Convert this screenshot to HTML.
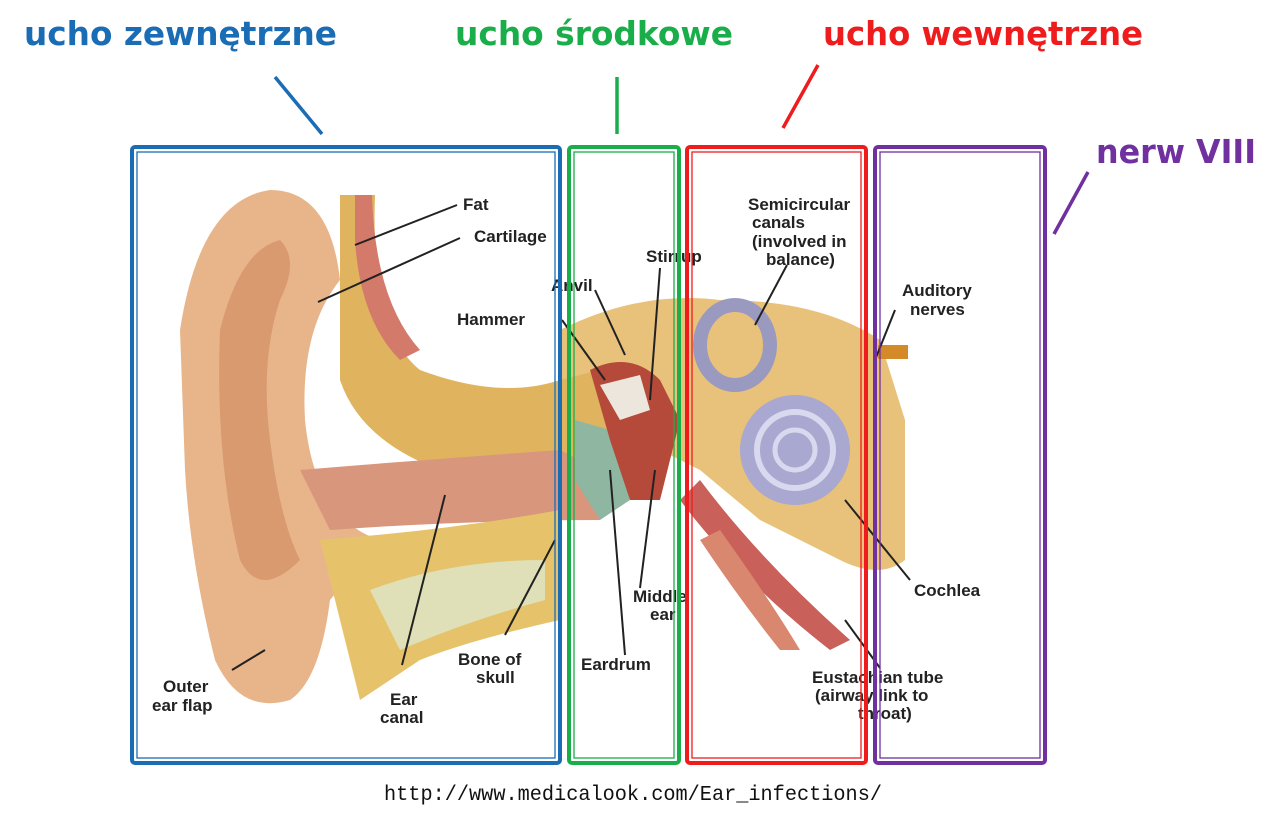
<!DOCTYPE html>
<html><head><meta charset="utf-8"><style>
body{margin:0;width:1280px;height:823px;background:#fff;overflow:hidden;font-family:"Liberation Sans",sans-serif}
svg{position:absolute;left:0;top:0}
.h{font-family:"DejaVu Sans","Liberation Sans",sans-serif;font-size:33px;font-weight:bold}
.l{font-family:"Liberation Sans",sans-serif;font-weight:bold;font-size:17px;fill:#222}
</style></head><body>
<svg width="1280" height="823" viewBox="0 0 1280 823">
<path d="M560 330 Q640 290 720 300 Q820 300 880 340 L905 420 L905 560 Q880 580 840 560 L760 520 L700 470 L640 440 L560 450 Z" fill="#e8c27a"/>
<path d="M340 195 L375 195 Q370 330 420 370 Q500 400 560 380 L600 370 L620 440 L560 470 L440 470 Q360 440 340 380 Z" fill="#e0b45e"/>
<path d="M355 195 L372 195 Q375 300 420 350 L400 360 Q360 320 355 240Z" fill="#d47a6a"/>
<path d="M180 330 Q200 200 270 190 Q330 190 340 280 Q300 330 305 420 Q315 520 380 540 L330 600 Q320 680 290 700 Q240 715 215 660 Q190 560 185 470 Z" fill="#e8b58a"/>
<path d="M220 330 Q240 250 280 240 Q300 260 280 300 Q260 360 270 440 Q280 520 300 560 Q260 600 240 560 Q215 460 220 330Z" fill="#d99a70"/>
<path d="M300 470 Q420 460 560 450 L600 470 L600 520 Q470 520 330 530 Z" fill="#d8967c"/>
<path d="M320 540 Q450 530 560 510 L560 620 Q470 640 420 660 L360 700 Z" fill="#e6c36b"/>
<path d="M370 590 Q450 560 545 560 L545 600 Q470 620 400 650 Z" fill="#dfe0b8"/>
<path d="M575 420 L610 430 L630 500 L600 520 L575 480Z" fill="#8fb6a0"/>
<path d="M590 370 Q630 350 660 380 L680 420 L660 500 L630 500 L610 440Z" fill="#b54a3a"/>
<path d="M600 385 L640 375 L650 410 L620 420Z" fill="#ece6dc"/>
<ellipse cx="735" cy="345" rx="35" ry="40" fill="none" stroke="#9a9ac0" stroke-width="14"/>
<circle cx="795" cy="450" r="55" fill="#a8a8d0"/>
<circle cx="795" cy="450" r="38" fill="none" stroke="#d8d8ee" stroke-width="6"/>
<circle cx="795" cy="450" r="20" fill="none" stroke="#d8d8ee" stroke-width="5"/>
<path d="M700 480 Q760 560 850 640 L830 650 Q740 580 680 500Z" fill="#c9605a"/>
<path d="M720 530 Q770 600 800 650 L780 650 Q740 600 700 540Z" fill="#d9876e"/>
<rect x="878" y="345" width="30" height="14" fill="#d58a2a"/>
<g stroke="#222" stroke-width="2" fill="none">
<line x1="457" y1="205" x2="355" y2="245"/><line x1="460" y1="238" x2="318" y2="302"/>
<line x1="562" y1="320" x2="605" y2="380"/><line x1="595" y1="290" x2="625" y2="355"/>
<line x1="660" y1="268" x2="650" y2="400"/><line x1="787" y1="265" x2="755" y2="325"/>
<line x1="895" y1="310" x2="875" y2="360"/><line x1="910" y1="580" x2="845" y2="500"/>
<line x1="880" y1="668" x2="845" y2="620"/><line x1="640" y1="588" x2="655" y2="470"/>
<line x1="625" y1="655" x2="610" y2="470"/><line x1="505" y1="635" x2="555" y2="540"/>
<line x1="402" y1="665" x2="445" y2="495"/><line x1="232" y1="670" x2="265" y2="650"/>
</g>
<g class="l">
<text x="463" y="210" class="l">Fat</text><text x="474" y="242" class="l">Cartilage</text>
<text x="748" y="210" class="l">Semicircular</text><text x="752" y="228" class="l">canals</text>
<text x="752" y="247" class="l">(involved in</text><text x="766" y="265" class="l">balance)</text>
<text x="646" y="262" class="l">Stirrup</text><text x="551" y="291" class="l">Anvil</text>
<text x="457" y="325" class="l">Hammer</text>
<text x="902" y="296" class="l">Auditory</text><text x="910" y="315" class="l">nerves</text>
<text x="914" y="596" class="l">Cochlea</text>
<text x="633" y="602" class="l">Middle</text><text x="650" y="620" class="l">ear</text>
<text x="581" y="670" class="l">Eardrum</text>
<text x="458" y="665" class="l">Bone of</text><text x="476" y="683" class="l">skull</text>
<text x="812" y="683" class="l">Eustachian tube</text><text x="815" y="701" class="l">(airway link to</text><text x="858" y="719" class="l">throat)</text>
<text x="163" y="692" class="l">Outer</text><text x="152" y="711" class="l">ear flap</text>
<text x="390" y="705" class="l">Ear</text><text x="380" y="723" class="l">canal</text>
</g>
<g fill="none">
<rect x="132" y="147" width="428" height="616" rx="3" stroke="#1a6db5" stroke-width="4"/>
<rect x="137" y="152" width="418" height="606" stroke="#1a6db5" stroke-width="1.3"/>
<rect x="569" y="147" width="110" height="616" rx="3" stroke="#1aae4a" stroke-width="4"/>
<rect x="574" y="152" width="100" height="606" stroke="#1aae4a" stroke-width="1.3"/>
<rect x="687" y="147" width="179" height="616" rx="3" stroke="#ee1c1c" stroke-width="4"/>
<rect x="692" y="152" width="169" height="606" stroke="#ee1c1c" stroke-width="1.3"/>
<rect x="875" y="147" width="170" height="616" rx="3" stroke="#7030a0" stroke-width="4"/>
<rect x="880" y="152" width="160" height="606" stroke="#7030a0" stroke-width="1.3"/>
</g>
<g stroke-width="3.5">
<line x1="275" y1="77" x2="322" y2="134" stroke="#1a6db5"/>
<line x1="617" y1="77" x2="617" y2="134" stroke="#1aae4a"/>
<line x1="818" y1="65" x2="783" y2="128" stroke="#ee1c1c"/>
<line x1="1088" y1="172" x2="1054" y2="234" stroke="#7030a0"/>
</g>
<text class="h" x="24" y="45" fill="#1a6db5" textLength="313" lengthAdjust="spacingAndGlyphs">ucho zewnętrzne</text>
<text class="h" x="455" y="45" fill="#1aae4a" textLength="278" lengthAdjust="spacingAndGlyphs">ucho środkowe</text>
<text class="h" x="823" y="45" fill="#ee1c1c" textLength="320" lengthAdjust="spacingAndGlyphs">ucho wewnętrzne</text>
<text class="h" x="1096" y="163" fill="#7030a0" textLength="160" lengthAdjust="spacingAndGlyphs">nerw VIII</text>
<text x="384" y="800" font-family="Liberation Mono,monospace" font-size="21" fill="#111" textLength="498" lengthAdjust="spacingAndGlyphs">http://www.medicalook.com/Ear_infections/</text>
</svg>
</body></html>
